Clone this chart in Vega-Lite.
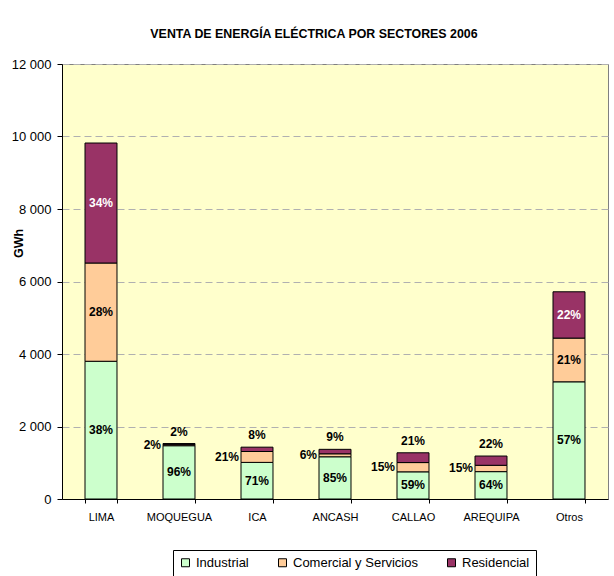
{
  "$schema": "https://vega.github.io/schema/vega-lite/v6.json",
  "width": 546,
  "height": 435,
  "autosize": {"type": "none"},
  "padding": {"left": 62, "top": 64, "right": 6, "bottom": 77},
  "background": "white",
  "title": {
    "text": "VENTA DE ENERGÍA ELÉCTRICA POR SECTORES  2006",
    "font": "Liberation Sans",
    "fontSize": 12.4,
    "fontWeight": "bold",
    "color": "black",
    "anchor": "middle",
    "frame": "group",
    "dx": -21,
    "offset": 18
  },
  "data": {
    "values": [
      {"region": "LIMA", "sector": "Industrial", "gwh": 3800, "pct": "38%"},
      {"region": "LIMA", "sector": "Comercial y Servicios", "gwh": 2710, "pct": "28%"},
      {"region": "LIMA", "sector": "Residencial", "gwh": 3310, "pct": "34%"},
      {"region": "MOQUEGUA", "sector": "Industrial", "gwh": 1470, "pct": "96%"},
      {"region": "MOQUEGUA", "sector": "Comercial y Servicios", "gwh": 30, "pct": "2%"},
      {"region": "MOQUEGUA", "sector": "Residencial", "gwh": 30, "pct": "2%"},
      {"region": "ICA", "sector": "Industrial", "gwh": 1010, "pct": "71%"},
      {"region": "ICA", "sector": "Comercial y Servicios", "gwh": 300, "pct": "21%"},
      {"region": "ICA", "sector": "Residencial", "gwh": 120, "pct": "8%"},
      {"region": "ANCASH", "sector": "Industrial", "gwh": 1165, "pct": "85%"},
      {"region": "ANCASH", "sector": "Comercial y Servicios", "gwh": 82, "pct": "6%"},
      {"region": "ANCASH", "sector": "Residencial", "gwh": 123, "pct": "9%"},
      {"region": "CALLAO", "sector": "Industrial", "gwh": 750, "pct": "59%"},
      {"region": "CALLAO", "sector": "Comercial y Servicios", "gwh": 255, "pct": "15%"},
      {"region": "CALLAO", "sector": "Residencial", "gwh": 270, "pct": "21%"},
      {"region": "AREQUIPA", "sector": "Industrial", "gwh": 755, "pct": "64%"},
      {"region": "AREQUIPA", "sector": "Comercial y Servicios", "gwh": 175, "pct": "15%"},
      {"region": "AREQUIPA", "sector": "Residencial", "gwh": 255, "pct": "22%"},
      {"region": "Otros", "sector": "Industrial", "gwh": 3233, "pct": "57%"},
      {"region": "Otros", "sector": "Comercial y Servicios", "gwh": 1206, "pct": "21%"},
      {"region": "Otros", "sector": "Residencial", "gwh": 1277, "pct": "22%"}
    ]
  },
  "transform": [
    {"calculate": "indexof(['Industrial','Comercial y Servicios','Residencial'], datum.sector)", "as": "so"},
    {"stack": "gwh", "groupby": ["region"], "sort": [{"field": "so", "order": "ascending"}], "as": ["v0", "v1"]},
    {"calculate": "(datum.v0 + datum.v1) / 2", "as": "mid"}
  ],
  "encoding": {
    "x": {
      "field": "region",
      "type": "nominal",
      "sort": ["LIMA", "MOQUEGUA", "ICA", "ANCASH", "CALLAO", "AREQUIPA", "Otros"],
      "scale": {"paddingInner": 0.59, "paddingOuter": 0.295},
      "axis": {
        "title": null,
        "labelAngle": 0,
        "tickBand": "extent",
        "tickSize": 4,
        "tickColor": "black",
        "domainColor": "black",
        "labelPadding": 8,
        "labelFont": "Liberation Sans",
        "labelFontSize": 11,
        "labelColor": "black"
      }
    }
  },
  "layer": [
    {
      "mark": {"type": "bar", "stroke": "black", "strokeWidth": 1},
      "encoding": {
        "y": {
          "field": "v0",
          "type": "quantitative",
          "title": "GWh",
          "scale": {"domain": [0, 12000], "nice": false},
          "axis": {
            "values": [0, 2000, 4000, 6000, 8000, 10000, 12000],
            "labelExpr": "replace(format(datum.value, ',d'), ',', ' ')",
            "grid": true,
            "gridDash": [7, 4],
            "gridColor": "#B0B0B0",
            "domainColor": "black",
            "tickColor": "black",
            "tickSize": 5,
            "labelPadding": 6,
            "labelFont": "Liberation Sans",
            "labelFontSize": 13,
            "labelColor": "black",
            "titleFont": "Liberation Sans",
            "titleFontSize": 12.5,
            "titleFontWeight": "bold",
            "titleColor": "black",
            "titleX": -44,
            "titleY": 179,
            "titleAngle": -90,
            "titleAlign": "center",
            "titleBaseline": "middle"
          }
        },
        "y2": {"field": "v1"},
        "color": {
          "field": "sector",
          "type": "nominal",
          "sort": ["Industrial", "Comercial y Servicios", "Residencial"],
          "scale": {
            "domain": ["Industrial", "Comercial y Servicios", "Residencial"],
            "range": ["#CCFFCC", "#FFCC99", "#993366"]
          },
          "legend": {
            "title": null,
            "orient": "none",
            "direction": "horizontal",
            "legendX": 111,
            "legendY": 486,
            "strokeColor": "black",
            "fillColor": "white",
            "padding": 6,
            "symbolType": "square",
            "symbolSize": 64,
            "symbolStrokeColor": "black",
            "symbolStrokeWidth": 1,
            "symbolOpacity": 1,
            "labelFont": "Liberation Sans",
            "labelFontSize": 13,
            "labelColor": "black",
            "columnPadding": 27,
            "labelOffset": 4
          }
        }
      }
    },
    {
      "transform": [{"filter": "datum.gwh >= 500"}],
      "mark": {"type": "text", "font": "Liberation Sans", "fontSize": 12, "fontWeight": "bold", "baseline": "middle"},
      "encoding": {
        "y": {"field": "mid", "type": "quantitative", "title": "GWh"},
        "text": {"field": "pct"},
        "color": {"condition": {"test": "datum.sector === 'Residencial'", "value": "white"}, "value": "black"}
      }
    },
    {
      "transform": [{"filter": "datum.gwh < 500 && datum.sector === 'Comercial y Servicios'"}],
      "mark": {"type": "text", "font": "Liberation Sans", "fontSize": 12, "fontWeight": "bold", "baseline": "middle", "align": "right", "dx": -18, "color": "black"},
      "encoding": {
        "y": {"field": "mid", "type": "quantitative", "title": "GWh"},
        "text": {"field": "pct"}
      }
    },
    {
      "transform": [{"filter": "datum.gwh < 500 && datum.sector === 'Residencial'"}],
      "mark": {"type": "text", "font": "Liberation Sans", "fontSize": 12, "fontWeight": "bold", "baseline": "middle", "dy": -12, "color": "black"},
      "encoding": {
        "y": {"field": "v1", "type": "quantitative", "title": "GWh"},
        "text": {"field": "pct"}
      }
    }
  ],
  "config": {
    "view": {"fill": "#FFFFCC", "stroke": "#808080"}
  }
}
